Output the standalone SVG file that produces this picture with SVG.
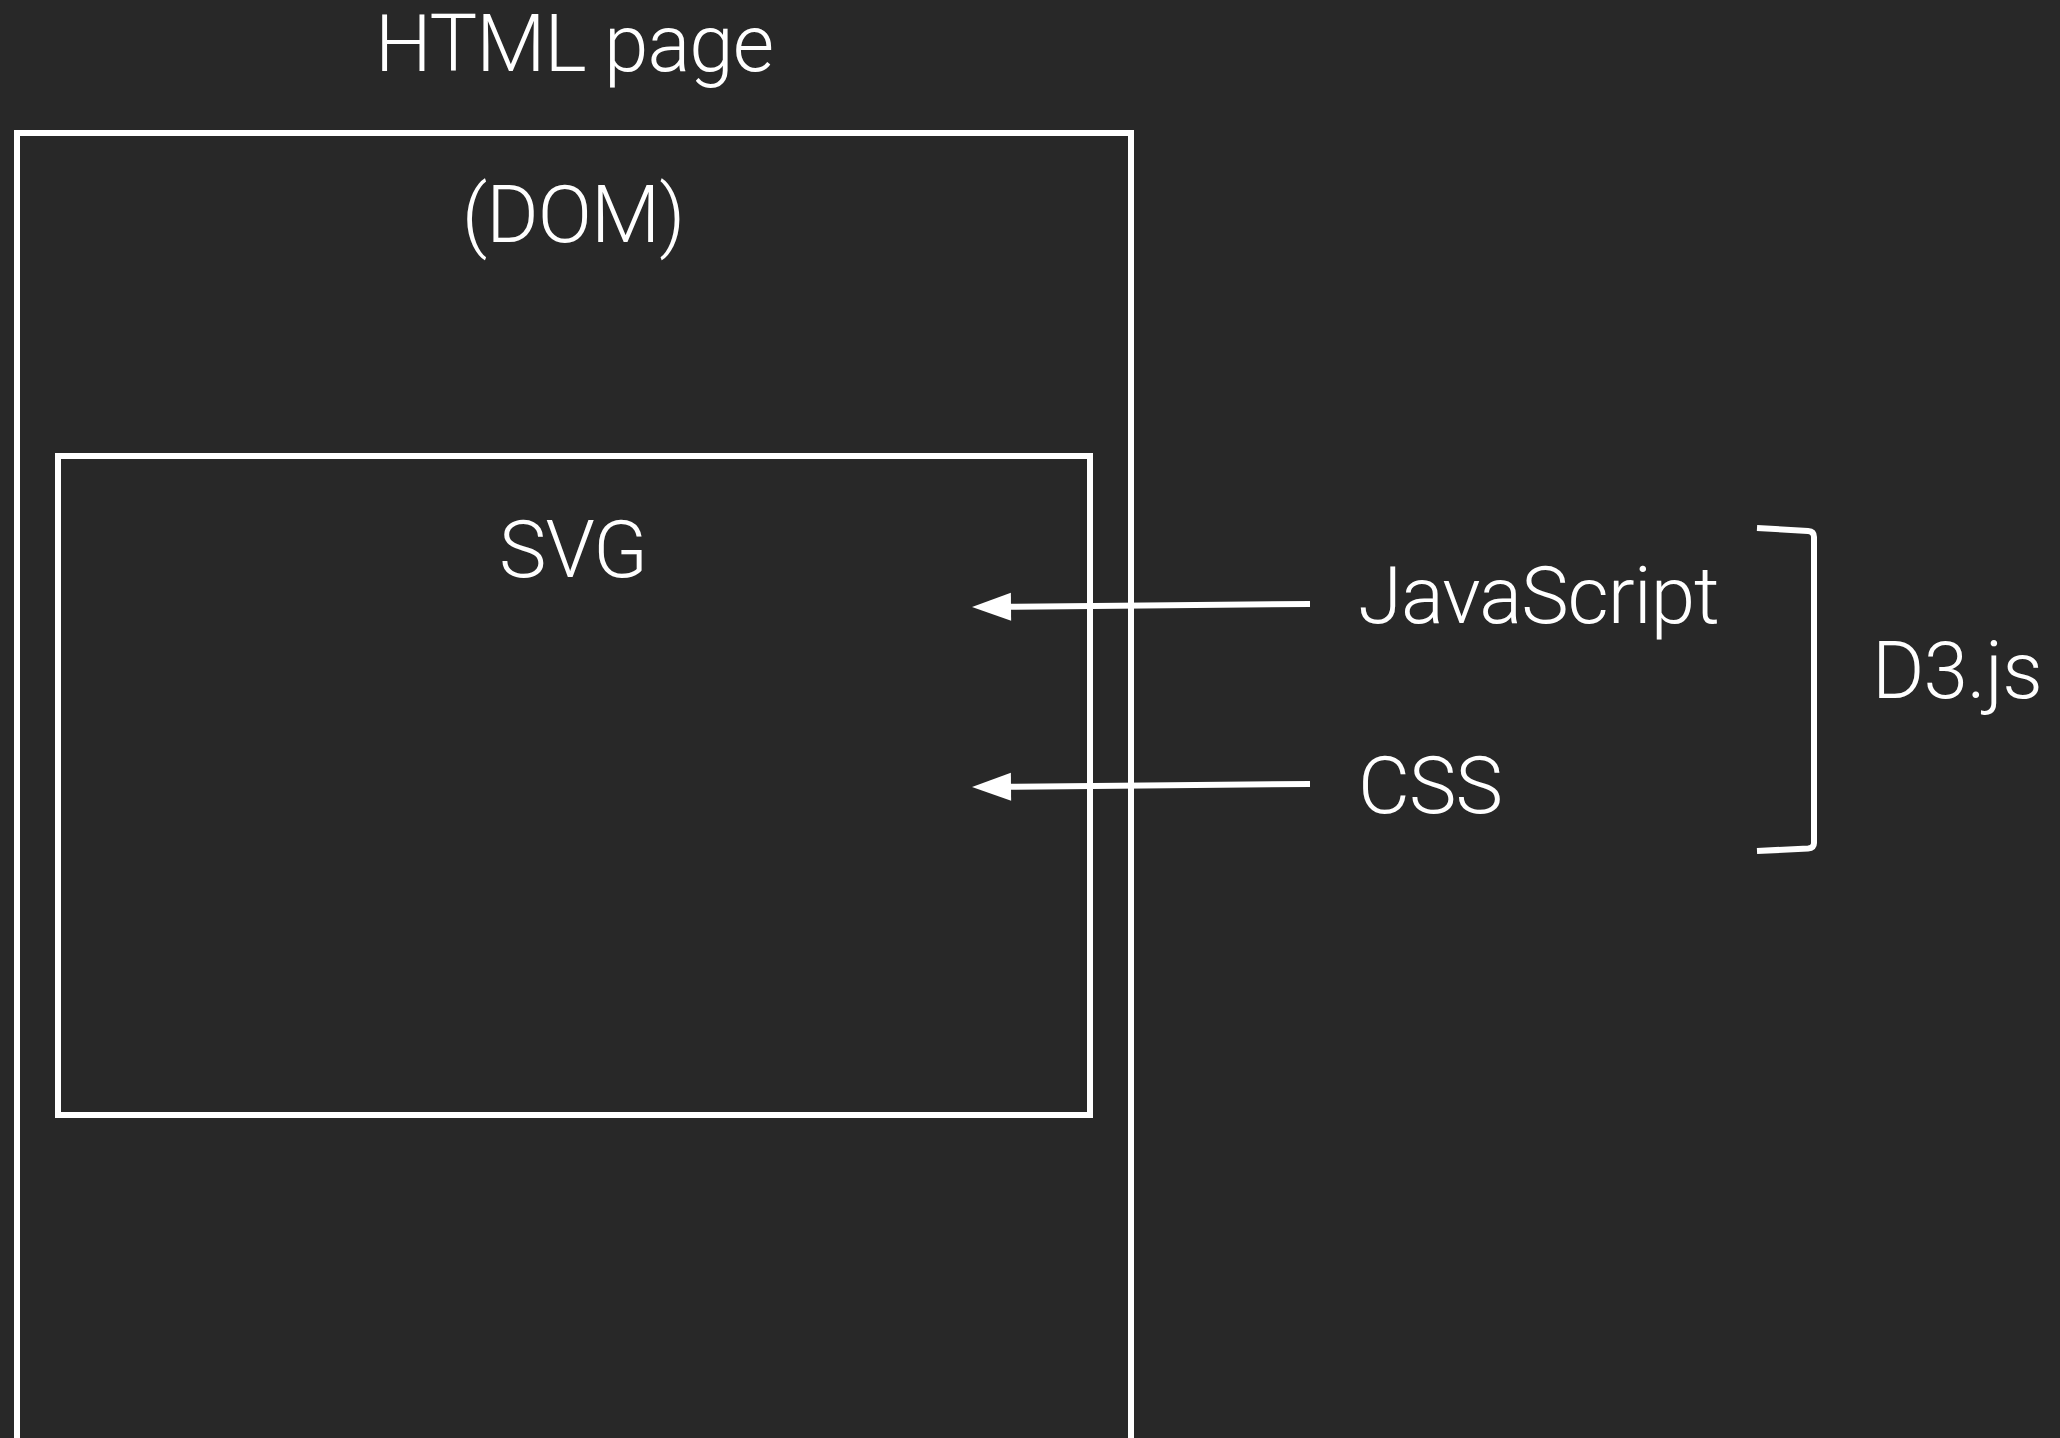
<svg xmlns="http://www.w3.org/2000/svg" width="2060" height="1438" viewBox="0 0 2060 1438">
  <style>
    .frame { fill: none; stroke: #ffffff; stroke-width: 6; }
    .wire { fill: none; stroke: #ffffff; stroke-width: 6; }
    .label { fill: #ffffff; font-family: Roboto, "Liberation Sans", sans-serif; font-weight: 300; font-size: 80px; letter-spacing: -1px; }
    .mid { text-anchor: middle; }
  </style>
  <defs>
    <marker id="head" markerUnits="userSpaceOnUse" markerWidth="42" markerHeight="32" viewBox="0 -16 42 32" refX="0" refY="0" orient="auto" overflow="visible">
      <path d="M0,-14 L39,0 L0,14 Z" fill="#ffffff"/>
    </marker>
  </defs>

  <rect width="2060" height="1438" fill="#282828"/>

  <g id="html-page">
    <rect class="frame" x="17" y="133" width="1114" height="1320"/>
    <text class="label mid" x="574" y="71">HTML page</text>
    <text class="label mid" x="573" y="242">(DOM)</text>
  </g>

  <g id="svg">
    <rect class="frame" x="58" y="456" width="1032" height="659"/>
    <text class="label mid" x="573" y="577">SVG</text>
  </g>

  <g id="javascript">
    <text class="label" x="1358" y="623">JavaScript</text>
  </g>

  <g id="css">
    <text class="label" x="1358" y="813">CSS</text>
  </g>

  <g id="d3js">
    <path class="wire" d="M1757,528 L1808,531 Q1814,531.5 1814,537 L1814,843 Q1814,848 1808,848.5 L1757,851"/>
    <text class="label" x="1872" y="698">D3.js</text>
  </g>

  <g id="connectors">
    <path class="wire" d="M1310,604 L1011,606.7" marker-end="url(#head)"/>
    <path class="wire" d="M1310,784 L1011,786.7" marker-end="url(#head)"/>
  </g>
</svg>
